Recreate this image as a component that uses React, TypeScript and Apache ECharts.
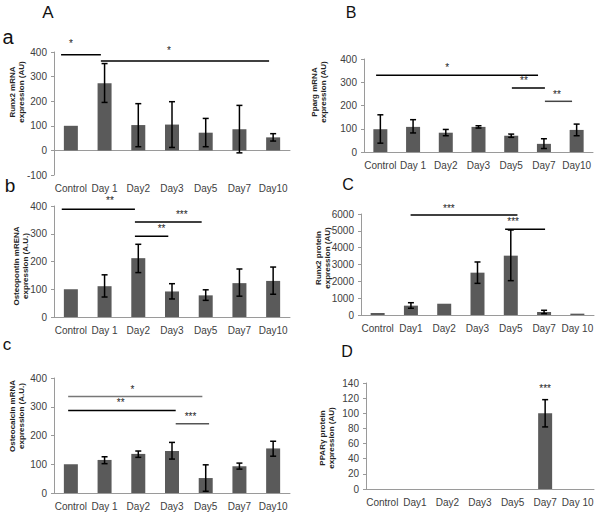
import React, { useEffect, useRef } from 'react';
import * as echarts from 'echarts';

const FONT = '"Liberation Sans", Arial, sans-serif';
const BAR_COLOR = '#5a5a5a';

// Category labels
const catsMrna = ['Control', 'Day 1', 'Day2', 'Day3', 'Day5', 'Day7', 'Day10'];
const catsProtein = ['Control', 'Day1', 'Day2', 'Day3', 'Day5', 'Day7', 'Day 10'];

// a: Runx2 mRNA
const runx2Mrna = [100, 273, 103, 105, 72, 86, 53];
const runx2MrnaLow = [null, 195, 15, 12, 15, -10, 38];
const runx2MrnaHigh = [null, 353, 190, 198, 130, 183, 68];

// B: Pparg mRNA
const ppargMrna = [98, 108, 83, 108, 70, 35, 95];
const ppargMrnaLow = [38, 82, 70, 103, 63, 15, 70];
const ppargMrnaHigh = [160, 139, 97, 113, 77, 57, 120];

// b: Osteopontin mRNA
const osteopontin = [100, 111, 212, 92, 78, 122, 130];
const osteopontinLow = [null, 72, 160, 65, 60, 75, 82];
const osteopontinHigh = [null, 152, 262, 120, 98, 173, 180];

// C: Runx2 protein
const runx2Protein = [120, 555, 670, 2515, 3525, 180, 80];
const runx2ProteinLow = [null, 400, null, 1880, 2040, 80, null];
const runx2ProteinHigh = [null, 730, null, 3150, 5050, 280, null];

// c: Osteocalcin mRNA
const osteocalcin = [100, 115, 136, 146, 52, 93, 155];
const osteocalcinLow = [null, 102, 124, 118, 6, 83, 128];
const osteocalcinHigh = [null, 126, 146, 176, 98, 104, 180];

// D: PPARy protein
const ppargProtein = [0, 0, 0, 0, 0, 100, 0];
const ppargProteinLow = [null, null, null, null, null, 82, null];
const ppargProteinHigh = [null, null, null, null, null, 118, null];

// significance brackets: from/to/tx in category units, y in data units
const sigRunx2Mrna = [
  { from: -0.29, to: 0.89, y: 389, text: '*', tx: 0.0, dy: 11, color: '#000' },
  { from: 0.89, to: 5.88, y: 363, text: '*', tx: 2.91, dy: 11, color: '#000' },
];
const sigPpargMrna = [
  { from: -0.13, to: 4.82, y: 330, text: '*', tx: 2.04, dy: 8, color: '#000' },
  { from: 4.02, to: 5.03, y: 275, text: '**', tx: 4.39, dy: 8, color: '#000' },
  { from: 5.03, to: 5.86, y: 218, text: '**', tx: 5.4, dy: 7, color: '#444' },
];
const sigOsteopontin = [
  { from: -0.27, to: 1.9, y: 388, text: '**', tx: 1.16, dy: 8.5, color: '#000' },
  { from: 1.9, to: 3.88, y: 342, text: '***', tx: 3.29, dy: 7.5, color: '#000' },
  { from: 1.9, to: 2.89, y: 291, text: '**', tx: 2.69, dy: 7.5, color: '#000' },
];
const sigRunx2Protein = [
  { from: 0.99, to: 4.2, y: 5940, text: '***', tx: 2.14, dy: 6.5, color: '#000' },
  { from: 3.83, to: 5.03, y: 5100, text: '***', tx: 4.07, dy: 8, color: '#000' },
];
const sigOsteocalcin = [
  { from: -0.08, to: 3.9, y: 336, text: '*', tx: 1.83, dy: 7, color: '#777' },
  { from: -0.08, to: 3.11, y: 287, text: '**', tx: 1.48, dy: 7.5, color: '#000' },
  { from: 3.11, to: 4.1, y: 241, text: '***', tx: 3.55, dy: 7, color: '#555' },
];
const sigPpargProtein = [
  { from: 5, to: 5, y: 118, text: '***', tx: 5, dy: 11, color: '#000' },
];

const panels = [
  {
    grid: { left: 54, top: 52, width: 236, height: 123 },
    min: -100, max: 400, interval: 100,
    cats: catsMrna, values: runx2Mrna, low: runx2MrnaLow, high: runx2MrnaHigh, sigs: sigRunx2Mrna,
  },
  {
    grid: { left: 364, top: 59, width: 229, height: 93 },
    min: 0, max: 400, interval: 100,
    cats: catsMrna, values: ppargMrna, low: ppargMrnaLow, high: ppargMrnaHigh, sigs: sigPpargMrna,
  },
  {
    grid: { left: 54, top: 206, width: 236, height: 111 },
    min: 0, max: 400, interval: 100,
    cats: catsMrna, values: osteopontin, low: osteopontinLow, high: osteopontinHigh, sigs: sigOsteopontin,
  },
  {
    grid: { left: 361, top: 214, width: 233, height: 101 },
    min: 0, max: 6000, interval: 1000,
    cats: catsProtein, values: runx2Protein, low: runx2ProteinLow, high: runx2ProteinHigh, sigs: sigRunx2Protein,
  },
  {
    grid: { left: 54, top: 378, width: 236, height: 115 },
    min: 0, max: 400, interval: 100,
    cats: catsMrna, values: osteocalcin, low: osteocalcinLow, high: osteocalcinHigh, sigs: sigOsteocalcin,
  },
  {
    grid: { left: 366, top: 383, width: 228, height: 106 },
    min: 0, max: 140, interval: 20,
    cats: catsProtein, values: ppargProtein, low: ppargProteinLow, high: ppargProteinHigh, sigs: sigPpargProtein,
  },
];

const axisNames = [
  { text: 'Runx2 mRNA\nexpression (AU)', x: 17, y: 92 },
  { text: 'Pparg mRNA\nexpression (AU)', x: 319, y: 92 },
  { text: 'Osteopontin mRENA\nexpression (A.U.)', x: 21, y: 266 },
  { text: 'Runx2 protein\nexpression (AU)', x: 323, y: 258 },
  { text: 'Osteocalcin mRNA\nexpression (A.U.)', x: 17, y: 416 },
  { text: 'PPARγ protein\nexpression (AU)', x: 327, y: 438 },
];

const panelLetters = [
  { text: 'A', x: 48, y: 12, size: 17 },
  { text: 'B', x: 351, y: 12, size: 16 },
  { text: 'a', x: 8, y: 37, size: 20 },
  { text: 'b', x: 10, y: 185, size: 19 },
  { text: 'C', x: 348, y: 184.5, size: 16 },
  { text: 'c', x: 7, y: 344, size: 17 },
  { text: 'D', x: 347, y: 351, size: 16 },
];

function buildOption() {
  const series: any[] = [];
  panels.forEach((p, i) => {
    series.push({
      type: 'bar',
      xAxisIndex: i,
      yAxisIndex: i,
      data: p.values,
      barWidth: 14,
      itemStyle: { color: BAR_COLOR },
      silent: true,
    });
    const errData: number[][] = [];
    p.values.forEach((_, k) => {
      if (p.low[k] != null && p.high[k] != null) errData.push([k, p.low[k] as number, p.high[k] as number]);
    });
    series.push({
      type: 'custom',
      xAxisIndex: i,
      yAxisIndex: i,
      data: errData,
      encode: { x: 0, y: [1, 2] },
      silent: true,
      z: 5,
      renderItem: (params: any, api: any) => {
        const top = api.coord([api.value(0), api.value(2)]);
        const bot = api.coord([api.value(0), api.value(1)]);
        const w = 3;
        const st = { stroke: '#000', lineWidth: 1.5 };
        return {
          type: 'group',
          children: [
            { type: 'line', shape: { x1: top[0], y1: top[1], x2: bot[0], y2: bot[1] }, style: st },
            { type: 'line', shape: { x1: top[0] - w, y1: top[1], x2: top[0] + w, y2: top[1] }, style: st },
            { type: 'line', shape: { x1: bot[0] - w, y1: bot[1], x2: bot[0] + w, y2: bot[1] }, style: st },
          ],
        };
      },
    });
    series.push({
      type: 'custom',
      xAxisIndex: i,
      yAxisIndex: i,
      data: p.sigs.map((s) => [0, s.y]),
      encode: { x: 0, y: 1 },
      silent: true,
      clip: false,
      z: 6,
      renderItem: (params: any, api: any) => {
        const s = p.sigs[params.dataIndex];
        const base = api.coord([0, s.y]);
        const band = api.size([1, 0])[0];
        const X = (pos: number) => base[0] + pos * band;
        const children: any[] = [];
        if (s.to > s.from) {
          children.push({
            type: 'line',
            shape: { x1: X(s.from), y1: base[1], x2: X(s.to), y2: base[1] },
            style: { stroke: s.color, lineWidth: 1.5 },
          });
        }
        children.push({
          type: 'text',
          style: {
            text: s.text,
            x: X(s.tx),
            y: base[1] - s.dy,
            align: 'center',
            verticalAlign: 'middle',
            fontSize: 10,
            fontFamily: FONT,
            fill: '#222',
          },
        });
        return { type: 'group', children };
      },
    });
  });

  const graphic: any[] = [];
  axisNames.forEach((n) => {
    graphic.push({
      type: 'text',
      x: n.x,
      y: n.y,
      rotation: Math.PI / 2,
      silent: true,
      style: {
        text: n.text,
        fontSize: 8,
        fontWeight: 'bold',
        fontFamily: FONT,
        fill: '#222',
        lineHeight: 9,
        align: 'center',
        verticalAlign: 'middle',
      },
    });
  });
  panelLetters.forEach((l) => {
    graphic.push({
      type: 'text',
      x: l.x,
      y: l.y,
      silent: true,
      style: {
        text: l.text,
        fontSize: l.size,
        fontFamily: FONT,
        fill: '#111',
        align: 'center',
        verticalAlign: 'middle',
      },
    });
  });

  return {
    animation: false,
    backgroundColor: '#fff',
    grid: panels.map((p) => ({ ...p.grid, containLabel: false, outerBoundsMode: 'none' })),
    xAxis: panels.map((p, i) => ({
      type: 'category',
      gridIndex: i,
      data: p.cats,
      axisLine: { show: true, onZero: true, lineStyle: { color: '#9a9a9a', width: 1 } },
      axisTick: { show: false },
      axisLabel: { interval: 0, margin: 8, fontSize: 10, color: '#404040', fontFamily: FONT },
      splitLine: { show: false },
    })),
    yAxis: panels.map((p, i) => ({
      type: 'value',
      gridIndex: i,
      min: p.min,
      max: p.max,
      interval: p.interval,
      axisLine: { show: true, lineStyle: { color: '#9a9a9a', width: 1 } },
      axisTick: { show: true, length: 3, lineStyle: { color: '#9a9a9a' } },
      axisLabel: {
        margin: 7,
        fontSize: 10,
        color: '#404040',
        fontFamily: FONT,
        formatter: (v: number) => String(v),
      },
      splitLine: { show: false },
    })),
    series,
    graphic,
  };
}

export default function App() {
  const ref = useRef<HTMLDivElement>(null);
  useEffect(() => {
    const chart = echarts.init(ref.current!, null, { renderer: 'svg' });
    chart.setOption(buildOption() as any);
    return () => chart.dispose();
  }, []);
  return (
    <div
      ref={ref}
      style={{ position: 'absolute', left: 0, top: 0, width: 598, height: 513, background: '#fff' }}
    />
  );
}
